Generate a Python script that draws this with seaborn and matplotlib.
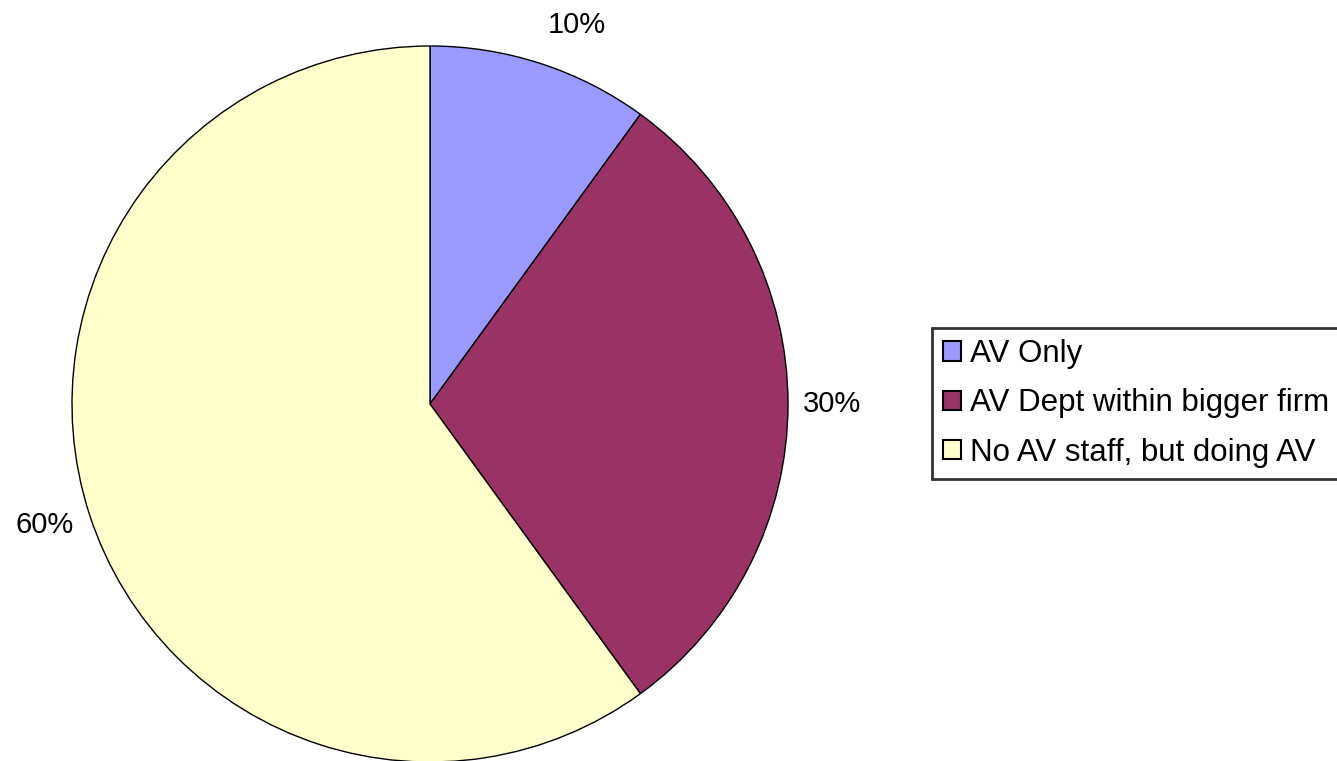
import matplotlib
matplotlib.use("Agg")
import matplotlib.pyplot as plt
import seaborn as sns

categories = ["AV Only", "AV Dept within bigger firm", "No AV staff, but doing AV"]
shares = [10, 30, 60]
colors = ["#9999FF", "#993366", "#FFFFCC"]

sns.set_theme(style="white")
plt.rcParams["font.family"] = ["Liberation Sans", "DejaVu Sans"]

W, H = 1337, 761
fig = plt.figure(figsize=(W / 100, H / 100), dpi=100)
fig.patch.set_facecolor("white")

# pie area: centre ~ (430, 404), radius ~ 358 px
ax = fig.add_axes([72 / W, (H - 404 - 358) / H, 716 / W, 716 / H])
wedges, texts, autotexts = ax.pie(
    shares,
    colors=colors,
    startangle=90,
    counterclock=False,
    autopct="%1.0f%%",
    pctdistance=1.13,
    wedgeprops=dict(edgecolor="black", linewidth=1.0),
    textprops=dict(fontsize=21, color="black"),
)
ax.set_xlim(-1, 1)
ax.set_ylim(-1, 1)
ax.set_aspect("equal")
ax.axis("off")
for w in wedges:
    w.set_clip_on(False)

# small nudges like Excel's label placement
nudges = [(0.062, -0.016), (-0.007, 0.0), (-0.003, 0.011)]
for t, (dx, dy) in zip(autotexts, nudges):
    x, y = t.get_position()
    t.set_position((x + dx, y + dy))

leg = fig.legend(
    wedges,
    categories,
    loc="upper left",
    bbox_to_anchor=(932 / W, 1 - 328 / H),
    fontsize=22.5,
    labelcolor="black",
    frameon=True,
    fancybox=False,
    edgecolor="black",
    handlelength=0.58,
    handleheight=0.58,
    handletextpad=0.29,
    labelspacing=0.62,
    borderpad=0.35,
    borderaxespad=0,
)
leg.get_frame().set_linewidth(2)
for h in leg.legend_handles:
    h.set_linewidth(1.5)

fig.savefig("out.png", dpi=100)
